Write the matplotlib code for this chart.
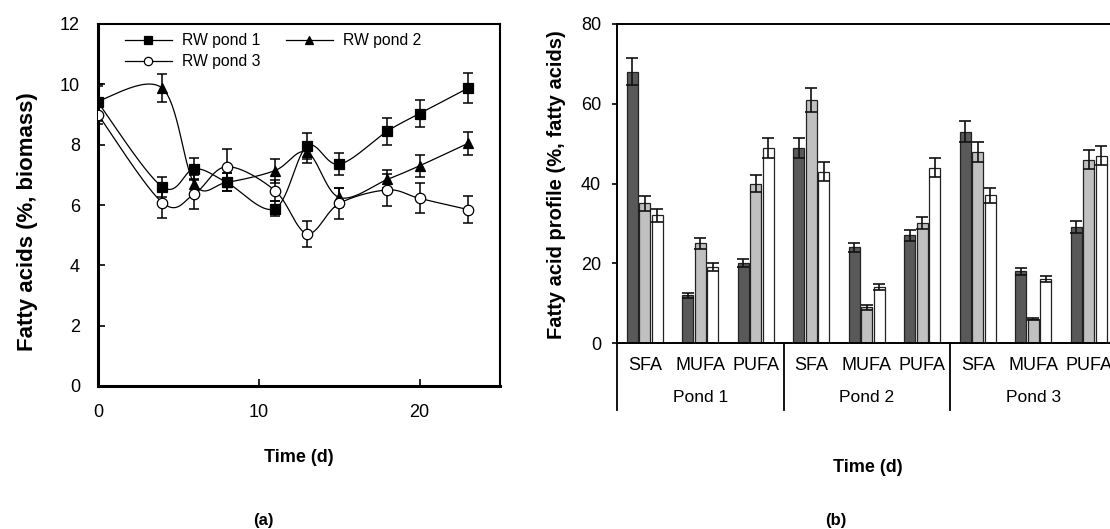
import numpy as np
import matplotlib
matplotlib.use("Agg")
import matplotlib.pyplot as plt
from matplotlib.lines import Line2D
import matplotlib.transforms as mtransforms

plt.rcParams['font.family'] = ['Liberation Sans', 'DejaVu Sans']

# ---------- Data: panel (a) ----------
days = [0, 4, 6, 8, 11, 13, 15, 18, 20, 23]
pond1 = [9.4, 6.6, 7.2, 6.75, 5.88, 7.95, 7.35, 8.45, 9.03, 9.87]
pond1_err = [0.6, 0.33, 0.37, 0.3, 0.25, 0.43, 0.37, 0.45, 0.45, 0.5]
pond2 = [9.45, 9.87, 6.7, 6.75, 7.14, 7.75, 6.25, 6.85, 7.3, 8.04]
pond2_err = [0.5, 0.47, 0.3, 0.3, 0.4, 0.35, 0.3, 0.3, 0.37, 0.37]
pond3 = [9.0, 6.08, 6.37, 7.27, 6.48, 5.05, 6.05, 6.5, 6.22, 5.85]
pond3_err = [0.3, 0.5, 0.5, 0.57, 0.35, 0.43, 0.5, 0.53, 0.5, 0.46]
series_names = ["RW pond 1", "RW pond 2", "RW pond 3"]

# ---------- Data: panel (b) ----------
fa_classes = ["SFA", "MUFA", "PUFA"] * 3
pond_labels = ["Pond 1", "Pond 2", "Pond 3"]
bar_dark = [68, 12, 20, 49, 24, 27, 53, 18, 29]
bar_dark_err = [3.4, 0.6, 1.0, 2.5, 1.2, 1.3, 2.7, 0.9, 1.5]
bar_grey = [35, 25, 40, 61, 9, 30, 48, 6, 46]
bar_grey_err = [1.8, 1.4, 2.1, 3.0, 0.6, 1.5, 2.5, 0.3, 2.4]
bar_white = [32, 19, 49, 43, 14, 44, 37, 16, 47]
bar_white_err = [1.7, 1.0, 2.5, 2.3, 0.7, 2.3, 1.8, 0.8, 2.4]


def smooth_curve(x, y, n=30):
    """Excel-style smoothed line (Catmull-Rom as cubic Bezier)."""
    pts = np.column_stack([x, y]).astype(float)
    P = np.vstack([pts[0], pts, pts[-1]])
    t = np.linspace(0, 1, n)[:, None]
    out = []
    for i in range(len(pts) - 1):
        p0, p1, p2, p3 = P[i], P[i + 1], P[i + 2], P[i + 3]
        c1 = p1 + (p2 - p0) / 6
        c2 = p2 - (p3 - p1) / 6
        seg = (1 - t) ** 3 * p1 + 3 * (1 - t) ** 2 * t * c1 + 3 * (1 - t) * t ** 2 * c2 + t ** 3 * p2
        out.append(seg if i == 0 else seg[1:])
    return np.vstack(out)


W, H = 1110, 529
fig = plt.figure(figsize=(W / 100, H / 100), dpi=100)

# ---------- Panel (a) ----------
ax1 = fig.add_axes([98 / W, 1 - 386 / H, 402 / W, 362 / H])
styles = [dict(marker='s', ms=6.5, mfc='black', mec='black'),
          dict(marker='^', ms=7.5, mfc='black', mec='black'),
          dict(marker='o', ms=7.5, mfc='white', mec='black')]
handles = []
for vals, errs, st, name in zip([pond1, pond2, pond3], [pond1_err, pond2_err, pond3_err],
                                styles, series_names):
    cur = smooth_curve(days, vals)
    ax1.plot(cur[:, 0], cur[:, 1], color='black', lw=0.9, zorder=2)
    ax1.errorbar(days, vals, yerr=errs, fmt='none', ecolor='black', elinewidth=1.1,
                 capsize=3.4, capthick=1.1, zorder=3)
    ax1.plot(days, vals, ls='none', mew=0.9, zorder=4, **st)
    hst = dict(st)
    hst['ms'] = st['ms'] * 0.8
    handles.append(Line2D([], [], color='black', lw=0.9, mew=0.9, **hst))

ax1.set_xlim(0, 25)
ax1.set_ylim(0, 12)
ax1.set_xticks([0, 10, 20])
ax1.set_yticks(range(0, 13, 2))
ax1.tick_params(direction='in', length=5, width=1.2, labelsize=13)
ax1.tick_params(axis='y', pad=13)
ax1.tick_params(axis='x', pad=13)
for side, lw in [('left', 2.2), ('bottom', 2.2), ('top', 1.5), ('right', 1.5)]:
    ax1.spines[side].set_linewidth(lw)
fig.text(28 / W, 1 - 222 / H, "Fatty acids (%, biomass)", rotation=90, ha='center', va='center',
         fontsize=16, fontweight='bold')

leg = ax1.legend([handles[0], handles[2], handles[1]],
                 [series_names[0], series_names[2], series_names[1]],
                 ncol=2, loc='upper left', bbox_to_anchor=(0.067, 0.975), frameon=False,
                 fontsize=11.3, handlelength=3.0, handletextpad=0.64, columnspacing=1.6,
                 labelspacing=0.4, borderpad=0, borderaxespad=0)

fig.text(299 / W, 1 - 458 / H, "Time (d)", ha='center', va='center', fontsize=13, fontweight='bold')
fig.text(263 / W, 1 - 520 / H, "(a)", ha='center', va='center', fontsize=12, fontweight='bold')

# ---------- Panel (b) ----------
ax2 = fig.add_axes([617 / W, 1 - 343 / H, 499.5 / W, 319 / H])
xpos = np.arange(len(fa_classes)) + 0.5
offs = 0.222
bw = 0.2
for k, (vals, errs, col) in enumerate([(bar_dark, bar_dark_err, '#595959'),
                                       (bar_grey, bar_grey_err, '#c0c0c0'),
                                       (bar_white, bar_white_err, 'white')]):
    xx = xpos + (k - 1) * offs
    ax2.bar(xx, vals, width=bw, color=col, edgecolor='#222222', linewidth=0.9, zorder=2)
    ax2.errorbar(xx, vals, yerr=errs, fmt='none', ecolor='#111111', elinewidth=1.2,
                 capsize=4.3, capthick=1.2, zorder=3)

ax2.set_xlim(0, 9)
ax2.set_ylim(0, 80)
ax2.set_yticks(range(0, 81, 20))
ax2.set_xticks([])
ax2.tick_params(axis='y', direction='out', length=3.5, width=1.2, labelsize=13, pad=8)
for side in ['left', 'bottom', 'top', 'right']:
    ax2.spines[side].set_linewidth(1.4)
fig.text(556 / W, 1 - 185 / H, "Fatty acid profile (%, fatty acids)", rotation=90, ha='center',
         va='center', fontsize=14.5, fontweight='bold')

trans = mtransforms.blended_transform_factory(ax2.transData, ax2.transAxes)
for x, lab in zip(xpos, fa_classes):
    ax2.text(x, -22 / 319, lab, transform=trans, ha='center', va='center', fontsize=13)
for i, lab in enumerate(pond_labels):
    ax2.text(3 * i + 1.5, -55 / 319, lab, transform=trans, ha='center', va='center', fontsize=12.5)
for xv in [0, 3, 6, 9]:
    ax2.plot([xv, xv], [0, -67 / 319], transform=trans, color='black', lw=1.3, clip_on=False)

fig.text(868 / W, 1 - 467 / H, "Time (d)", ha='center', va='center', fontsize=13, fontweight='bold')
fig.text(836 / W, 1 - 520 / H, "(b)", ha='center', va='center', fontsize=12, fontweight='bold')

fig.savefig("out.png", dpi=100)
